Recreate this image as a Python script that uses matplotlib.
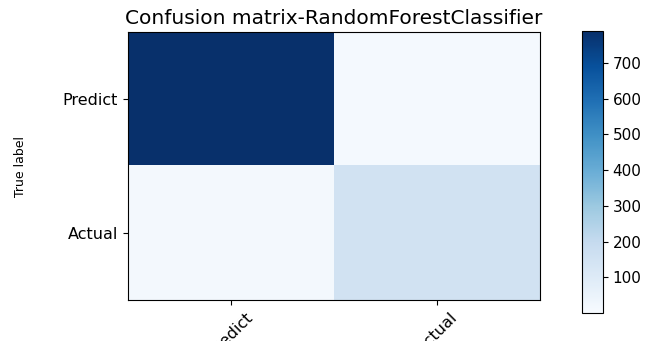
import numpy as np
import matplotlib.pyplot as plt

classes = ['Predict', 'Actual']
conf_matrix = np.array([[788, 12],
                        [16, 150]])

fig = plt.figure(figsize=(6.59, 3.41), dpi=100)
ax = fig.add_axes([0.194, 0.12, 0.626, 0.786])
cax = fig.add_axes([0.883, 0.082, 0.032, 0.826])

im = ax.imshow(conf_matrix, interpolation='nearest', cmap=plt.cm.Blues,
               aspect='auto', vmin=0)
ax.set_title('Confusion matrix-RandomForestClassifier', fontsize=14.5)
cb = fig.colorbar(im, cax=cax)
cb.set_ticks([100, 200, 300, 400, 500, 600, 700])
cb.ax.tick_params(labelsize=11)

ticks = np.arange(len(classes))
ax.set_xticks(ticks)
ax.set_xticklabels(classes, rotation=45, fontsize=11.5)
ax.set_yticks(ticks)
ax.set_yticklabels(classes, fontsize=11.5)
ax.set_ylabel('True label', fontsize=9)
ax.yaxis.set_label_coords(-0.245, 0.5)

fig.savefig('out.png', dpi=100)
